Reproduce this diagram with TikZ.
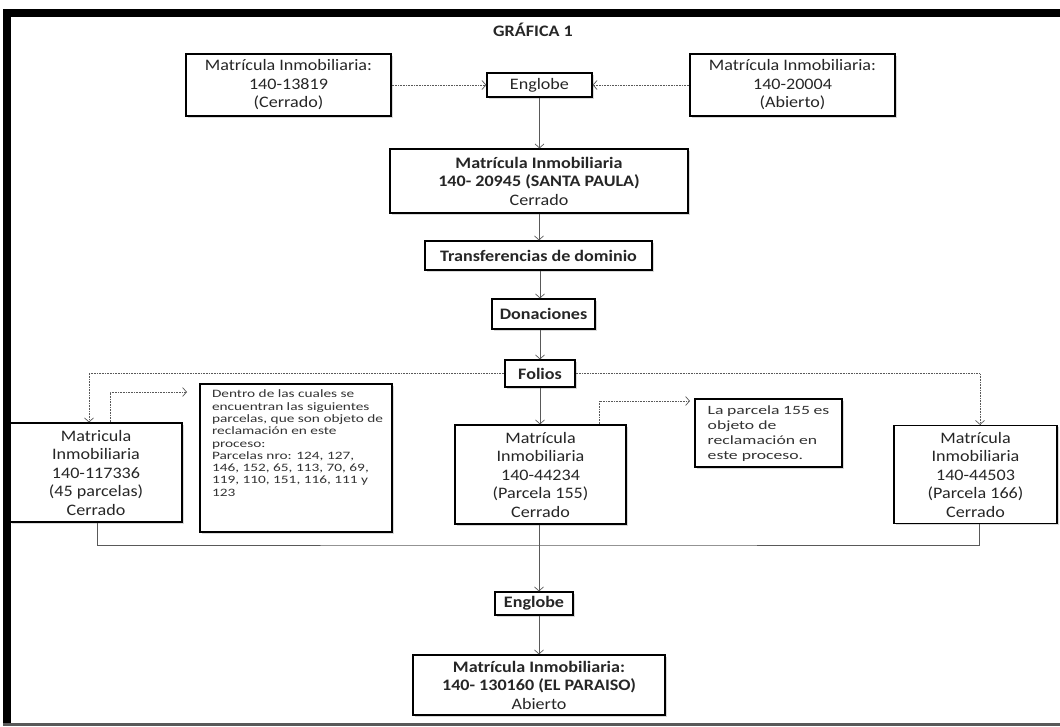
\documentclass[tikz,border=0pt]{standalone}
\usepackage{fontspec}
\usepackage{graphicx}
\setmainfont{Carlito}[FakeStretch=1.13]
\usetikzlibrary{arrows.meta,shadows}
\begin{document}
\begin{tikzpicture}[x=1pt,y=-1pt,
  box/.style={draw=black, line width=1.2pt, fill=white, inner sep=0pt, align=center,
    text=black!85, font=\fontsize{16}{18.5}\selectfont,
    drop shadow={shadow xshift=1.5pt, shadow yshift=-1.5pt, opacity=0.3}},
  notebox/.style={draw=black, line width=1.2pt, fill=white, inner sep=0pt, text=black!80,
    drop shadow={shadow xshift=1.5pt, shadow yshift=-1.5pt, opacity=0.3}},
  conn/.style={draw=gray!70!black, line width=0.7pt},
  arr/.style={conn, -{Straight Barb[length=4pt,width=9pt]}},
  dotl/.style={dash pattern=on 1pt off 0.6pt},
]
\useasboundingbox (0,0) rectangle (1060,726);
% frame
\fill[black] (4,9) rectangle (1060,17);
\fill[black] (3,9) rectangle (11,726);
\fill[black!65] (3,723) rectangle (1060,726);

\node[font=\bfseries\fontsize{16}{18}\selectfont, text=black!85] (title) at (533,30) {GRÁFICA 1};

\node[box, minimum width=205pt, minimum height=62pt] (A) at (288.5,85)
  {Matrícula Inmobiliaria:\\140-13819\\(Cerrado)};
\node[box, minimum width=105pt, minimum height=24pt] (eng1) at (539.5,85) {Englobe};
\node[box, minimum width=205pt, minimum height=62pt] (B) at (792.5,85)
  {Matrícula Inmobiliaria:\\140-20004\\(Abierto)};
\node[box, minimum width=298pt, minimum height=64pt] (sp) at (539,181)
  {\textbf{Matrícula Inmobiliaria}\\\textbf{140- 20945 (SANTA PAULA)}\\Cerrado};
\node[box, minimum width=227pt, minimum height=29pt, font=\bfseries\fontsize{16}{18.5}\selectfont] (tr) at (538.5,255.5) {Transferencias de dominio};
\node[box, minimum width=103pt, minimum height=30pt, font=\bfseries\fontsize{16}{18.5}\selectfont] (don) at (543.5,314) {Donaciones};
\node[box, minimum width=70pt, minimum height=27pt, font=\bfseries\fontsize{16}{18.5}\selectfont] (fol) at (540,373.5) {Folios};

\node[box, minimum width=172pt, minimum height=99pt] (L) at (96,472.5)
  {Matricula\\Inmobiliaria\\140-117336\\(45 parcelas)\\Cerrado};
\node[notebox, minimum width=192pt, minimum height=148pt] (noteL) at (296,458)
  {\scalebox{1.2}[1]{\parbox[c][148pt][t]{150pt}{\vspace*{6pt}\fontsize{11.3}{12.3}\selectfont\raggedright\leftskip=5pt
   Dentro de las cuales se\\encuentran las siguientes\\parcelas, que son objeto de\\reclamación en este\\proceso:\\Parcelas nro: 124, 127,\\146, 152, 65, 113, 70, 69,\\119, 110, 151, 116, 111 y\\123}}};
\node[box, minimum width=171pt, minimum height=99pt] (M) at (540.5,474.5)
  {Matrícula\\Inmobiliaria\\140-44234\\(Parcela 155)\\Cerrado};
\node[notebox, minimum width=147pt, minimum height=68pt] (noteM) at (768.5,433)
  {\scalebox{1.24}[1]{\parbox[c][68pt][t]{98pt}{\vspace*{7pt}\fontsize{12.6}{15}\selectfont\raggedright
   La parcela 155 es\\objeto de\\reclamación en\\este proceso.}}};
\node[box, minimum width=163pt, minimum height=98pt] (R) at (975.5,474.5)
  {Matrícula\\Inmobiliaria\\140-44503\\(Parcela 166)\\Cerrado};

\node[box, minimum width=78pt, minimum height=23pt, font=\bfseries\fontsize{16}{18.5}\selectfont] (eng2) at (534,603.5) {Englobe};
\node[box, minimum width=252pt, minimum height=60pt] (par) at (539,685)
  {\textbf{Matrícula Inmobiliaria:}\\\textbf{140- 130160 (EL PARAISO)}\\Abierto};

% connectors
\draw[arr,dotl] (A) -- (eng1);
\draw[arr,dotl] (B) -- (eng1);
\draw[arr] (eng1.south) -- (eng1.south |- sp.north);
\draw[arr] (sp.south) -- (sp.south |- tr.north);
\draw[arr] (fol.north |- tr.south) -- (fol.north |- don.north);
\draw[arr] (fol.north |- don.south) -- (fol.north);
\draw[arr] (fol.south) -- (fol.south |- M.north);
\draw[arr,dotl] (fol.west) -| ([xshift=-7pt]L.north);
\draw[arr,dotl] (fol.east) -| ([xshift=4.5pt]R.north);
\coordinate (nLin) at (187,392);
\draw[arr,dotl] ([xshift=14pt]L.north) |- (nLin);
\coordinate (nMin) at (690,401);
\draw[arr,dotl] ([xshift=58.5pt]M.north) |- (nMin);
\coordinate (mrg) at (539,545);
\draw[conn] ([xshift=1pt]L.south) |- (mrg) -| ([xshift=3.5pt]R.south);
\draw[arr] (M.south -| mrg) -- (mrg |- eng2.north);
\draw[arr] (eng2.south -| mrg) -- (mrg |- par.north);
\end{tikzpicture}
\end{document}
